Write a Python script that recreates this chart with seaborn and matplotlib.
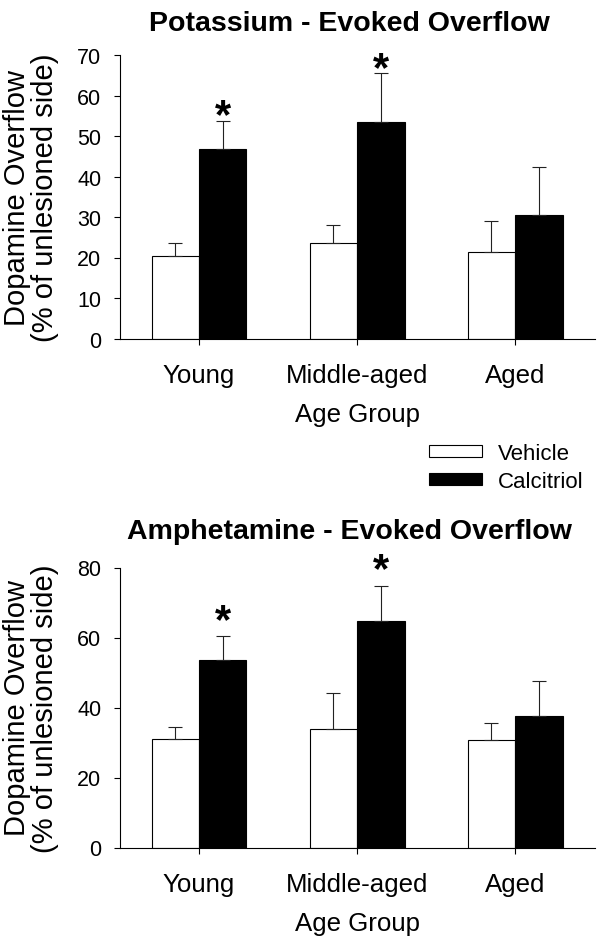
import numpy as np
import pandas as pd
import matplotlib
matplotlib.use("Agg")
import matplotlib.pyplot as plt
import seaborn as sns

# data (mean and upward SEM)
groups = ["Young", "Middle-aged", "Aged"]
treatments = ["Vehicle", "Calcitriol"]

k_vehicle = [20.4, 23.5, 21.4]
k_vehicle_sem = [3.1, 4.5, 7.6]
k_calcitriol = [46.9, 53.4, 30.5]
k_calcitriol_sem = [6.9, 12.2, 11.9]

amph_vehicle = [30.9, 33.8, 30.6]
amph_vehicle_sem = [3.6, 10.4, 5.0]
amph_calcitriol = [53.6, 64.7, 37.7]
amph_calcitriol_sem = [6.7, 10.1, 10.0]

significant = [True, True, False]

sns.set_style("ticks")
plt.rcParams["font.family"] = ["Liberation Sans", "DejaVu Sans"]
plt.rcParams.update({"text.color": "black", "axes.labelcolor": "black",
                     "xtick.color": "black", "ytick.color": "black",
                     "axes.edgecolor": "black"})


def long_form(vehicle, calcitriol):
    return pd.DataFrame({
        "group": groups * 2,
        "treatment": [treatments[0]] * 3 + [treatments[1]] * 3,
        "value": vehicle + calcitriol,
    })


def draw_panel(ax, vehicle, vehicle_sem, calcitriol, calcitriol_sem,
               title, ymax, ystep, star_offset, title_pad):
    df = long_form(vehicle, calcitriol)
    sns.barplot(data=df, x="group", y="value", hue="treatment",
                hue_order=treatments, order=groups,
                palette=["white", "black"], edgecolor="black", linewidth=0.8,
                width=0.6, errorbar=None, ax=ax)

    # upward error bars on each bar
    for cont, sem in zip(ax.containers, [vehicle_sem, calcitriol_sem]):
        xs = [p.get_x() + p.get_width() / 2 for p in cont.patches]
        ys = [p.get_height() for p in cont.patches]
        ax.errorbar(xs, ys, yerr=[np.zeros(len(sem)), sem], fmt="none",
                    ecolor="#222222", elinewidth=0.8, capsize=5, capthick=0.8,
                    zorder=3)

    # asterisks over calcitriol bars
    cont = ax.containers[1]
    for p, sem, sig in zip(cont.patches, calcitriol_sem, significant):
        if sig:
            ax.annotate("*", xy=(p.get_x() + p.get_width() / 2, p.get_height() + sem),
                        xytext=(0, star_offset), textcoords="offset points",
                        ha="center", va="center", fontsize=30, fontweight="bold")

    ax.set_xlim(-0.5, 2.505)
    ax.set_ylim(0, ymax)
    ax.set_yticks(np.arange(0, ymax + 1, ystep))
    ax.set_title(title, fontsize=20.5, fontweight="bold", pad=title_pad, x=0.482)
    ax.set_xlabel("Age Group", fontsize=18.6, labelpad=11)
    ax.set_ylabel("Dopamine Overflow\n(% of unlesioned side)", fontsize=21,
                  linespacing=1.0)
    ax.yaxis.set_label_coords(-0.128, 0.5)
    ax.tick_params(axis="x", labelsize=18.6, length=4.5, width=0.8, pad=13)
    ax.tick_params(axis="y", labelsize=15.5, length=4.5, width=0.8, pad=9)
    for s in ["left", "bottom"]:
        ax.spines[s].set_linewidth(0.8)
    sns.despine(ax=ax)


fig = plt.figure(figsize=(6.04, 9.45), dpi=100)
ax1 = fig.add_axes([120 / 604, 1 - 339.5 / 945, 475 / 604, 283.5 / 945])
ax2 = fig.add_axes([120 / 604, 1 - 848.5 / 945, 475 / 604, 280 / 945])

draw_panel(ax1, k_vehicle, k_vehicle_sem, k_calcitriol, k_calcitriol_sem,
           "Potassium - Evoked Overflow", 70, 10, 3, 18)
draw_panel(ax2, amph_vehicle, amph_vehicle_sem, amph_calcitriol, amph_calcitriol_sem,
           "Amphetamine - Evoked Overflow", 80, 20, 11, 21)

sns.move_legend(ax1, "upper left", bbox_to_anchor=(429 / 604, 1 - 444 / 945),
                bbox_transform=fig.transFigure, frameon=False, title=None,
                fontsize=16, handlelength=2.4, handleheight=0.45,
                handletextpad=0.7, labelspacing=0.3, borderpad=0,
                borderaxespad=0)
ax2.get_legend().remove()

fig.savefig("out.png", dpi=100)
